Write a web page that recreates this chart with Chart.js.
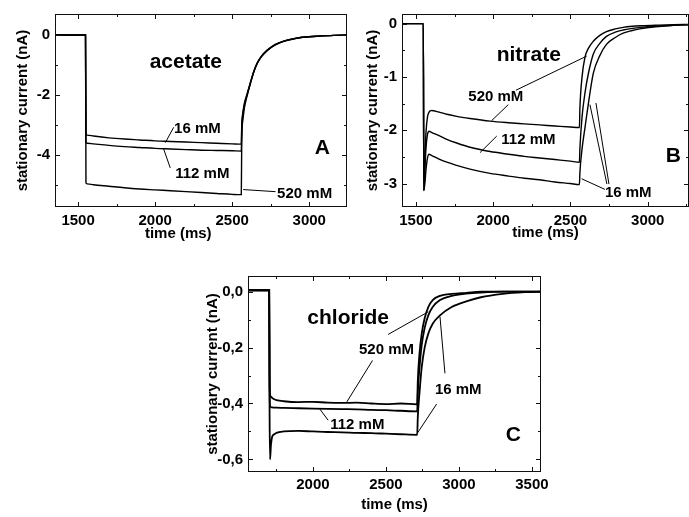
<!doctype html>
<html lang="en">
<head>
<meta charset="utf-8">
<title>stationary current</title>
<style>
  body { margin: 0; background: #fff; width: 689px; height: 517px; position: relative; overflow: hidden; }
  canvas { position: absolute; }
</style>
</head>
<body>
<canvas id="chartA" width="350" height="245" style="left:0px;top:0px"></canvas>
<canvas id="chartB" width="339" height="245" style="left:350px;top:0px"></canvas>
<canvas id="chartC" width="370" height="255" style="left:190px;top:262px"></canvas>
<script src="https://cdn.jsdelivr.net/npm/chart.js@4.4.0/dist/chart.umd.min.js"></script>
<script>
// ---- panel A: acetate ----
var timeA = [1350, 1548, 1551, 1560, 1600, 1700, 1800, 1900, 2000, 2100, 2200, 2300, 2400, 2500, 2559,
             2562, 2570, 2580, 2597, 2619, 2640, 2662, 2690, 2727, 2780, 2835, 2900, 2944, 3050, 3160, 3250];
var acetate16  = [0, 0, -3.30, -3.33, -3.36, -3.42, -3.46, -3.49, -3.52, -3.54, -3.56, -3.58, -3.60, -3.62, -3.63,
                  -3.00, -2.55, -2.25, -1.95, -1.56, -1.21, -0.93, -0.70, -0.50, -0.31, -0.20, -0.12, -0.08, -0.04, -0.01, 0];
var acetate112 = [0, 0, -3.58, -3.60, -3.62, -3.67, -3.71, -3.74, -3.77, -3.79, -3.81, -3.83, -3.84, -3.85, -3.86,
                  -3.10, -2.62, -2.30, -1.98, -1.58, -1.22, -0.94, -0.71, -0.51, -0.32, -0.20, -0.12, -0.08, -0.04, -0.01, 0];
var acetate520 = [0, 0, -4.92, -4.95, -4.98, -5.03, -5.08, -5.12, -5.15, -5.18, -5.21, -5.24, -5.27, -5.30, -5.31,
                  -3.50, -2.80, -2.40, -2.02, -1.60, -1.23, -0.95, -0.72, -0.52, -0.33, -0.21, -0.13, -0.08, -0.04, -0.01, 0];
var xTicksA = [1500, 2000, 2500, 3000];
var yTicksA = [0, -2, -4];

// ---- panel B: nitrate ----
var timeB = [1410, 1548, 1551, 1558, 1565, 1575, 1585, 1600, 1650, 1700, 1764, 1850, 1980, 2100, 2200, 2300, 2400, 2500, 2558,
             2561, 2575, 2594, 2615, 2648, 2690, 2733, 2790, 2841, 2900, 2949, 3050, 3165, 3270];
var nitrate520 = [0, 0, -3.13, -2.55, -2.05, -1.75, -1.66, -1.63, -1.66, -1.70, -1.74, -1.78, -1.83, -1.86, -1.88, -1.90, -1.92, -1.94, -1.95,
                  -1.60, -1.00, -0.63, -0.47, -0.33, -0.22, -0.15, -0.10, -0.07, -0.05, -0.04, -0.03, -0.02, -0.015];
var nitrate112 = [0, 0, -3.13, -2.75, -2.35, -2.08, -2.02, -2.04, -2.10, -2.17, -2.24, -2.32, -2.40, -2.45, -2.49, -2.52, -2.55, -2.58, -2.60,
                  -2.35, -1.75, -1.30, -0.95, -0.57, -0.37, -0.24, -0.16, -0.12, -0.09, -0.07, -0.05, -0.03, -0.02];
var nitrate16  = [0, 0, -3.13, -3.00, -2.75, -2.52, -2.45, -2.47, -2.54, -2.60, -2.66, -2.73, -2.81, -2.86, -2.90, -2.93, -2.97, -3.00, -3.02,
                  -2.80, -2.35, -1.95, -1.52, -0.93, -0.60, -0.39, -0.26, -0.18, -0.13, -0.10, -0.06, -0.03, -0.02];
var xTicksB = [1500, 2000, 2500, 3000];
var yTicksB = [0, -1, -2, -3];

// ---- panel C: chloride ----
var timeC = [1555, 1700, 1703, 1706, 1712, 1720, 1735, 1750, 1800, 1900, 2000, 2100, 2200, 2300, 2400, 2500, 2600, 2714,
             2718, 2730, 2745, 2765, 2790, 2820, 2870, 2950, 3050, 3150, 3300, 3450, 3560];
var chloride520 = [0.005, 0.005, -0.30, -0.37, -0.375, -0.38, -0.385, -0.388, -0.392, -0.395, -0.394, -0.397, -0.398, -0.397, -0.400, -0.402, -0.400, -0.403,
                   -0.32, -0.22, -0.15, -0.095, -0.055, -0.03, -0.015, -0.008, -0.004, 0, 0, 0, 0];
var chloride112 = [0.005, 0.005, -0.35, -0.41, -0.413, -0.414, -0.415, -0.415, -0.416, -0.417, -0.418, -0.419, -0.420, -0.421, -0.423, -0.424, -0.426, -0.428,
                   -0.36, -0.27, -0.19, -0.13, -0.085, -0.055, -0.03, -0.015, -0.007, -0.003, 0, 0, 0];
var chloride16  = [0.005, 0.005, -0.45, -0.60, -0.55, -0.52, -0.51, -0.505, -0.500, -0.498, -0.500, -0.502, -0.503, -0.505, -0.506, -0.508, -0.510, -0.512,
                   -0.45, -0.36, -0.27, -0.20, -0.15, -0.115, -0.085, -0.055, -0.035, -0.02, -0.008, -0.002, 0];
var xTicksC = [2000, 2500, 3000, 3500];
var yTicksC = [0, -0.2, -0.4, -0.6];

// labels inside the plots (data coordinates: time, current)
var labelsA = [['acetate', 2199, -0.92, 1], ['A', 3085, -3.76, 1], ['16 mM', 2274, -3.13, 0], ['112 mM', 2306, -4.61, 0], ['520 mM', 2970, -5.27, 0]];
var labelsB = [['nitrate', 2230, -0.60, 1], ['B', 3165, -2.49, 1], ['520 mM', 2017, -1.37, 0], ['112 mM', 2228, -2.19, 0], ['16 mM', 2874, -3.18, 0]];
var labelsC = [['chloride', 2241, -0.095, 1], ['C', 3372, -0.512, 1], ['520 mM', 2504, -0.209, 0], ['112 mM', 2304, -0.478, 0], ['16 mM', 2995, -0.350, 0]];

// leader lines [t1, v1, t2, v2]
var leadersA = [[2120, -3.07, 2066, -3.58], [2055, -3.79, 2098, -4.42], [2571, -5.14, 2781, -5.21]];
var leadersB = [[2147, -1.25, 2605, -0.61], [2098, -1.52, 1990, -1.82], [2023, -2.11, 1915, -2.42],
                [2723, -3.11, 2572, -2.91], [2736, -3.01, 2626, -1.52], [2749, -3.01, 2665, -1.49]];
var leadersC = [[2515, -0.153, 2790, -0.072], [2408, -0.246, 2230, -0.396], [2104, -0.460, 2047, -0.420],
                [2847, -0.402, 2714, -0.507], [2904, -0.292, 2870, -0.089]];

var FONT = '"Liberation Sans", Arial, sans-serif';

var decoPlugin = {
  id: 'deco',
  afterDatasetsDraw: function(chart, args, o) {
    var ctx = chart.ctx, a = chart.chartArea, xs = chart.scales.x, ys = chart.scales.y;
    ctx.save();
    ctx.strokeStyle = '#111';
    ctx.lineWidth = 1;
    ctx.strokeRect(Math.round(a.left) + 0.5, Math.round(a.top) + 0.5, Math.round(a.right - a.left) - 1, Math.round(a.bottom - a.top) - 1);
    // inward tick marks on all four sides
    function marks(scale, step, len, horiz) {
      var start = Math.ceil(scale.min / step - 1e-6);
      for (var i = start; i * step <= scale.max + 1e-9; i++) {
        var p = Math.round(scale.getPixelForValue(i * step)) + 0.5;
        ctx.beginPath();
        if (horiz) {
          ctx.moveTo(p, a.bottom); ctx.lineTo(p, a.bottom - len);
          ctx.moveTo(p, a.top); ctx.lineTo(p, a.top + len);
        } else {
          ctx.moveTo(a.left, p); ctx.lineTo(a.left + len, p);
          ctx.moveTo(a.right, p); ctx.lineTo(a.right - len, p);
        }
        ctx.stroke();
      }
    }
    marks(xs, o.xMinor, 3, true);
    marks(xs, o.xMinor * 2, 5, true);
    marks(ys, o.yMinor, 3, false);
    marks(ys, o.yMinor * 2, 5, false);
    ctx.restore();

    ctx.save();
    ctx.fillStyle = '#000';
    ctx.textAlign = 'center';
    ctx.textBaseline = 'middle';
    o.labels.forEach(function(l) {
      ctx.font = 'bold ' + (l[3] ? 21 : 15) + 'px ' + FONT;
      ctx.fillText(l[0], xs.getPixelForValue(l[1]), ys.getPixelForValue(l[2]));
    });
    if (o.xTitleAt) {
      ctx.font = 'bold 15px ' + FONT;
      ctx.fillText('time (ms)', xs.getPixelForValue(o.xTitleAt), a.bottom + 27);
    }
    ctx.restore();
  }
};

function makePanel(id, p) {
  var ds = p.curves.map(function(vals) {
    return {
      data: p.time.map(function(t, i) { return {x: t, y: vals[i]}; }),
      showLine: true, borderColor: '#000', borderWidth: p.lw,
      cubicInterpolationMode: 'monotone', pointRadius: 0
    };
  });
  p.leaders.forEach(function(l) {
    ds.push({data: [{x: l[0], y: l[1]}, {x: l[2], y: l[3]}], showLine: true, borderColor: '#000', borderWidth: 1, pointRadius: 0});
  });
  var tickFont = {family: FONT, size: 15, weight: 'bold'};
  return new Chart(document.getElementById(id), {
    type: 'scatter',
    data: {datasets: ds},
    options: {
      responsive: false,
      animation: false,
      devicePixelRatio: 1,
      layout: {padding: {top: p.pad[0], right: p.pad[1], bottom: 0, left: 0}},
      scales: {
        x: {
          type: 'linear', min: p.xRange[0], max: p.xRange[1],
          grid: {display: false, drawTicks: false}, border: {display: false},
          ticks: {padding: p.xPad, color: '#000', font: tickFont, maxRotation: 0, autoSkip: false,
                  callback: function(v) { return String(v); }},
          afterBuildTicks: function(s) { s.ticks = p.xTicks.map(function(v) { return {value: v}; }); },
          title: {display: !p.xTitleAt, text: 'time (ms)', color: '#000', font: tickFont, padding: {top: 0, bottom: 3}},
          afterFit: function(s) { s.height = p.xHeight; }
        },
        y: {
          type: 'linear', min: p.yRange[0], max: p.yRange[1],
          grid: {display: false, drawTicks: false}, border: {display: false},
          ticks: {padding: 5, color: '#000', font: tickFont, callback: p.yFmt},
          afterBuildTicks: function(s) { s.ticks = p.yTicks.map(function(v) { return {value: v}; }); },
          title: {display: true, text: 'stationary current (nA)', color: '#000', font: tickFont, padding: {top: 14, bottom: 0}},
          afterFit: function(s) { s.width = p.yWidth; }
        }
      },
      plugins: {
        legend: {display: false},
        tooltip: {enabled: false},
        deco: {xMinor: p.xMinor, yMinor: p.yMinor, labels: p.labels, xTitleAt: p.xTitleAt}
      }
    },
    plugins: [decoPlugin]
  });
}

makePanel('chartA', {
  time: timeA, curves: [acetate16, acetate112, acetate520], leaders: leadersA, labels: labelsA, lw: 1.4,
  xRange: [1350, 3245], yRange: [-5.72, 0.7], xTicks: xTicksA, yTicks: yTicksA, xMinor: 250, yMinor: 1,
  pad: [5, 3], xHeight: 38, yWidth: 55, xPad: 5, xTitleAt: 2150,
  yFmt: function(v) { return String(v); }
});
makePanel('chartB', {
  time: timeB, curves: [nitrate520, nitrate112, nitrate16], leaders: leadersB, labels: labelsB, lw: 1.4,
  xRange: [1410, 3267], yRange: [-3.44, 0.18], xTicks: xTicksB, yTicks: yTicksB, xMinor: 250, yMinor: 0.5,
  pad: [5, 0], xHeight: 38, yWidth: 52, xPad: 5,
  yFmt: function(v) { return String(v); }
});
makePanel('chartC', {
  time: timeC, curves: [chloride520, chloride112, chloride16], leaders: leadersC, labels: labelsC, lw: 1.8,
  xRange: [1555, 3562], yRange: [-0.645, 0.056], xTicks: xTicksC, yTicks: yTicksC, xMinor: 250, yMinor: 0.1,
  pad: [8, 19], xHeight: 45, yWidth: 58, xPad: 4,
  yFmt: function(v) { return v.toFixed(1).replace('.', ','); }
});
</script>
</body>
</html>
